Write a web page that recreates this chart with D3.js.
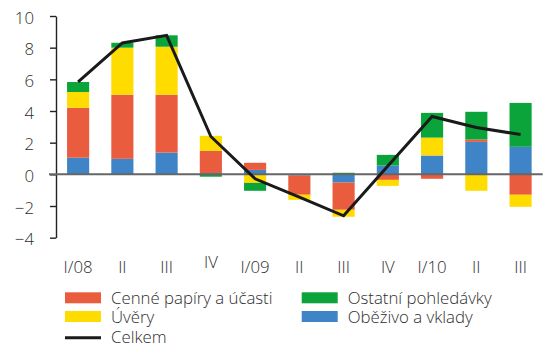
<!DOCTYPE html>
<html>
<head>
<meta charset="utf-8">
<script src="https://cdn.jsdelivr.net/npm/d3@7"></script>
<style>
  html, body { margin: 0; padding: 0; background: #fff; }
  svg text { font-family: "Open Sans", "Noto Sans", sans-serif; fill: #333; }
</style>
</head>
<body>
<svg id="chart" width="553" height="347"></svg>
<script>
// Quarter labels
const categories = ["I/08", "II", "III", "IV", "I/09", "II", "III", "IV", "I/10", "II", "III"];

// Component contributions (stacked bars)
const obezivo  = [1.05, 0.98, 1.37, 0.08, 0.28, -0.08, -0.52, 0.56, 1.19, 2.05, 1.74];
const cenne    = [3.15, 4.05, 3.66, 1.40, 0.45, -1.21, -1.72, -0.35, -0.28, 0.15, -1.29];
const uvery    = [1.00, 2.97, 3.03, 0.95, -0.54, -0.32, -0.44, -0.38, 1.13, -1.04, -0.76];
const ostatni  = [0.63, 0.31, 0.72, -0.15, -0.50, 0.00, 0.10, 0.67, 1.56, 1.75, 2.77];

// Total (line)
const celkem   = [5.84, 8.30, 8.78, 2.39, -0.28, -1.44, -2.62, 0.52, 3.65, 2.96, 2.51];

const yTicks = [-4, -2, 0, 2, 4, 6, 8, 10];

// Series in stacking order (nearest to zero first)
const series = [
  { key: "obezivo", name: "Oběživo a vklady",      values: obezivo, color: "#3e84c6" },
  { key: "cenne",   name: "Cenné papíry a účasti", values: cenne,   color: "#ea5c3e" },
  { key: "uvery",   name: "Úvěry",                 values: uvery,   color: "#ffdc00" },
  { key: "ostatni", name: "Ostatní pohledávky",    values: ostatni, color: "#0aa43a" }
];

const FONT_SIZE = 16.8;
const FONT_WEIGHT = 300;
const TEXT_COLOR = "#2e2e2e";

const svg = d3.select("#chart");

const x = d3.scaleBand()
  .domain(d3.range(categories.length))
  .range([56, 542.7])
  .paddingInner(0.5)
  .paddingOuter(0.25);

const y = d3.scaleLinear().domain([-4, 10]).range([237.67, 16]);

// Stack with positive/negative divergence
const rows = categories.map((c, i) => {
  const r = { i };
  series.forEach(s => { r[s.key] = s.values[i]; });
  return r;
});
const stacked = d3.stack()
  .keys(series.map(s => s.key))
  .offset(d3.stackOffsetDiverging)(rows);

svg.append("g").selectAll("g")
  .data(stacked)
  .join("g")
  .attr("fill", (d, k) => series[k].color)
  .selectAll("rect")
  .data(d => d)
  .join("rect")
  .attr("x", d => x(d.data.i))
  .attr("width", x.bandwidth())
  .attr("y", d => y(Math.max(d[0], d[1])))
  .attr("height", d => Math.abs(y(d[0]) - y(d[1])));

// Y axis
const yAxis = svg.append("g")
  .attr("transform", "translate(56,0)")
  .call(d3.axisLeft(y).tickValues(yTicks).tickSize(6).tickSizeOuter(0).tickPadding(16));
yAxis.select(".domain").attr("stroke", "#222").attr("stroke-width", 1.4);
yAxis.selectAll(".tick line").attr("stroke", "#222").attr("stroke-width", 1.4);
yAxis.selectAll(".tick text")
  .attr("font-size", FONT_SIZE)
  .attr("font-weight", FONT_WEIGHT)
  .attr("dy", "0.42em")
  .style("fill", TEXT_COLOR);

// Zero line
svg.append("line")
  .attr("x1", 49).attr("x2", 542.7)
  .attr("y1", y(0)).attr("y2", y(0))
  .attr("stroke", "#666").attr("stroke-width", 2);

// Total line
const line = d3.line()
  .x((d, i) => x(i) + x.bandwidth() / 2)
  .y(d => y(d));
svg.append("path")
  .datum(celkem)
  .attr("fill", "none")
  .attr("stroke", "#1a1a1a")
  .attr("stroke-width", 3)
  .attr("d", line);

// X axis labels
const xAxis = svg.append("g")
  .attr("transform", "translate(0,258)")
  .call(d3.axisBottom(x).tickFormat(i => categories[i]).tickSize(0).tickPadding(0));
xAxis.select(".domain").remove();
xAxis.selectAll(".tick text")
  .attr("font-size", FONT_SIZE)
  .attr("font-weight", FONT_WEIGHT)
  .attr("y", 0)
  .attr("dy", d => d === 3 ? "10.3" : "14.7")
  .style("fill", TEXT_COLOR);

// Legend
const legendItems = [
  { name: series[1].name, color: series[1].color, type: "rect", x: 65,    y: 297.8, ty: 0 },
  { name: series[2].name, color: series[2].color, type: "rect", x: 65,    y: 316.5, ty: 0 },
  { name: "Celkem",       color: "#1a1a1a",       type: "line", x: 65,    y: 337.7, ty: -1.2 },
  { name: series[3].name, color: series[3].color, type: "rect", x: 301.7, y: 297.8, ty: 0 },
  { name: series[0].name, color: series[0].color, type: "rect", x: 301.7, y: 316.5, ty: 0 }
];
const lg = svg.append("g").selectAll("g")
  .data(legendItems)
  .join("g")
  .attr("transform", d => `translate(${d.x},${d.y})`);
lg.filter(d => d.type === "rect").append("rect")
  .attr("x", 0).attr("y", -5.5).attr("width", 36).attr("height", 11)
  .attr("fill", d => d.color);
lg.filter(d => d.type === "line").append("line")
  .attr("x1", 0).attr("x2", 36).attr("y1", 0).attr("y2", 0)
  .attr("stroke", d => d.color).attr("stroke-width", 3);
lg.append("text")
  .attr("x", 46)
  .attr("y", d => d.ty)
  .attr("dy", "0.36em")
  .attr("font-size", FONT_SIZE)
  .attr("font-weight", FONT_WEIGHT)
  .style("fill", TEXT_COLOR)
  .text(d => d.name);
</script>
</body>
</html>
